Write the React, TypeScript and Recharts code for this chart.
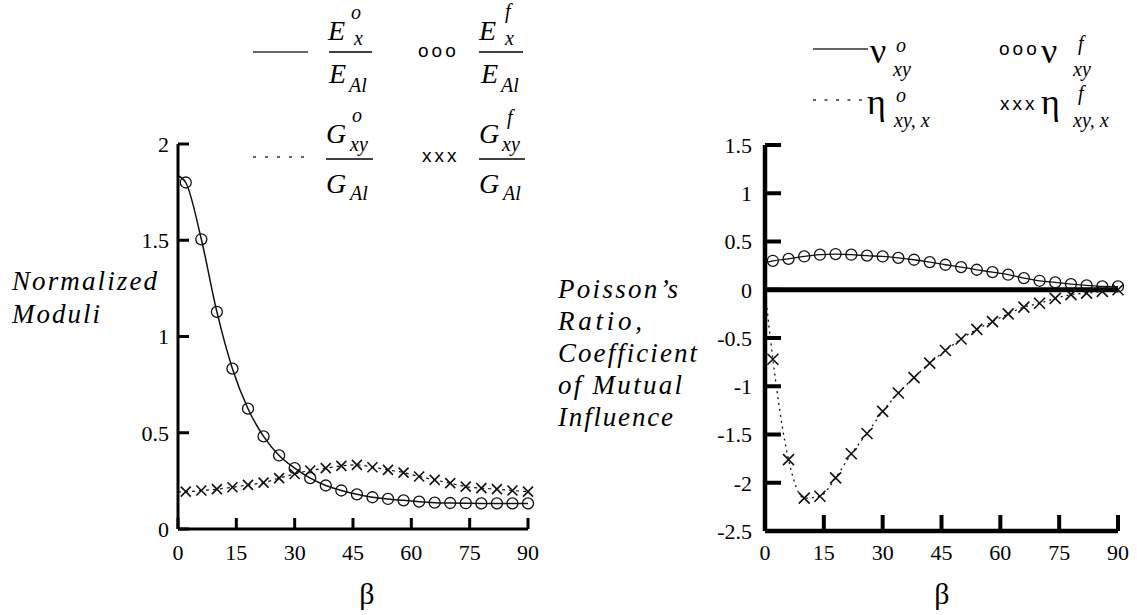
import React from 'react';
import { ComposedChart, Line, XAxis, YAxis, ReferenceLine } from 'recharts';

// beta (degrees) sample positions
const betaDeg = [0, 2, 6, 10, 14, 18, 22, 26, 30, 34, 38, 42, 46, 50, 54, 58, 62, 66, 70, 74, 78, 82, 86, 90];
const betaTicks = [0, 15, 30, 45, 60, 75, 90];
const moduliTicks = [0, 0.5, 1, 1.5, 2];
const poissonTicks = [-2.5, -2, -1.5, -1, -0.5, 0, 0.5, 1, 1.5];

// Left panel: normalized moduli
const exOrtho = [1.835, 1.8, 1.505, 1.128, 0.833, 0.625, 0.481, 0.382, 0.316, 0.264, 0.226, 0.2, 0.18, 0.165, 0.156, 0.149, 0.142, 0.137, 0.135, 0.134, 0.133, 0.133, 0.133, 0.133];
const exFinite = [null, 1.8, 1.505, 1.128, 0.833, 0.625, 0.481, 0.382, 0.316, 0.264, 0.226, 0.2, 0.18, 0.165, 0.156, 0.149, 0.142, 0.137, 0.135, 0.134, 0.133, 0.133, 0.133, 0.133];
const gxyOrtho = [0.193, 0.194, 0.2, 0.207, 0.217, 0.229, 0.241, 0.264, 0.286, 0.304, 0.316, 0.328, 0.333, 0.321, 0.307, 0.293, 0.273, 0.255, 0.238, 0.22, 0.212, 0.207, 0.2, 0.194];
const gxyFinite = [null, 0.194, 0.2, 0.207, 0.217, 0.229, 0.241, 0.264, 0.286, 0.304, 0.316, 0.328, 0.333, 0.321, 0.307, 0.293, 0.273, 0.255, 0.238, 0.22, 0.212, 0.207, 0.2, 0.194];

// Right panel: Poisson's ratio and coefficient of mutual influence
const nuOrtho = [0.28, 0.3, 0.32, 0.345, 0.363, 0.37, 0.363, 0.353, 0.345, 0.33, 0.311, 0.287, 0.259, 0.235, 0.207, 0.183, 0.156, 0.121, 0.093, 0.076, 0.059, 0.045, 0.034, 0.032];
const nuFinite = [null, 0.3, 0.32, 0.345, 0.363, 0.37, 0.363, 0.353, 0.345, 0.33, 0.311, 0.287, 0.259, 0.235, 0.207, 0.183, 0.156, 0.121, 0.093, 0.076, 0.059, 0.045, 0.034, 0.034];
const etaOrtho = [0, -0.72, -1.76, -2.16, -2.14, -1.95, -1.7, -1.49, -1.26, -1.07, -0.91, -0.76, -0.63, -0.51, -0.41, -0.33, -0.25, -0.18, -0.14, -0.09, -0.05, -0.035, -0.017, 0];
const etaFinite = [null, -0.72, -1.76, -2.16, -2.14, -1.95, -1.7, -1.49, -1.26, -1.07, -0.91, -0.76, -0.63, -0.51, -0.41, -0.33, -0.25, -0.18, -0.14, -0.09, -0.05, -0.035, -0.017, 0];

const moduliData = betaDeg.map((b, i) => ({ beta: b, exO: exOrtho[i], exF: exFinite[i], gO: gxyOrtho[i], gF: gxyFinite[i] }));
const poissonData = betaDeg.map((b, i) => ({ beta: b, nuO: nuOrtho[i], nuF: nuFinite[i], etaO: etaOrtho[i], etaF: etaFinite[i] }));

const SERIF = "'Liberation Serif', 'Times New Roman', 'Liberation Sans', Arial, sans-serif";
const SANS = "'Liberation Sans', Arial, 'DejaVu Sans', sans-serif";
const INK = '#111';

const circleDot = (r: number) => (p: any) => {
  const k = `c-${p.index}`;
  if (p.cx == null || p.cy == null || p.value == null || Number.isNaN(p.cy)) return <g key={k} />;
  return <circle key={k} cx={p.cx} cy={p.cy} r={r} fill="none" stroke={INK} strokeWidth={1.3} />;
};

const crossDot = (s: number) => (p: any) => {
  const k = `x-${p.index}`;
  if (p.cx == null || p.cy == null || p.value == null || Number.isNaN(p.cy)) return <g key={k} />;
  const { cx, cy } = p;
  return (
    <path
      key={k}
      d={`M${cx - s},${cy - s}L${cx + s},${cy + s}M${cx - s},${cy + s}L${cx + s},${cy - s}`}
      stroke={INK}
      strokeWidth={1.6}
      fill="none"
    />
  );
};

const tickFont = { fill: '#000', fontSize: 22, style: { fontFamily: SERIF } };

function Overlay() {
  const it = { style: { fontFamily: SERIF, fontStyle: 'italic' as const }, fill: '#000' };
  const up = { style: { fontFamily: SERIF }, fill: '#000' };
  const mk = { style: { fontFamily: SANS, letterSpacing: '3px' }, fill: '#000', fontSize: 19 };
  return (
    <svg width={1137} height={615} style={{ position: 'absolute', left: 0, top: 0, pointerEvents: 'none' }}>
      {/* Left legend row 1 */}
      <line x1={253} x2={308} y1={52} y2={52} stroke="#333" strokeWidth={1.5} />
      <text {...it} x={328} y={40} fontSize={28}>E</text>
      <text {...it} x={351} y={19} fontSize={20}>o</text>
      <text {...it} x={354} y={45} fontSize={20}>x</text>
      <line x1={329} x2={372} y1={52} y2={52} stroke="#000" strokeWidth={1.5} />
      <text {...it} x={329} y={83} fontSize={28}>E</text>
      <text {...it} x={349} y={92} fontSize={20}>Al</text>
      <text {...mk} x={418} y={57}>ooo</text>
      <text {...it} x={479} y={40} fontSize={28}>E</text>
      <text {...it} x={505} y={18} fontSize={20}>f</text>
      <text {...it} x={505} y={45} fontSize={20}>x</text>
      <line x1={479} x2={523} y1={52} y2={52} stroke="#000" strokeWidth={1.5} />
      <text {...it} x={481} y={83} fontSize={28}>E</text>
      <text {...it} x={501} y={92} fontSize={20}>Al</text>
      {/* Left legend row 2 */}
      <line x1={253} x2={308} y1={157} y2={157} stroke="#333" strokeWidth={1.5} strokeDasharray="3 9" />
      <text {...it} x={326} y={143} fontSize={28}>G</text>
      <text {...it} x={352} y={122} fontSize={20}>o</text>
      <text {...it} x={350} y={151} fontSize={20}>xy</text>
      <line x1={326} x2={373} y1={159} y2={159} stroke="#000" strokeWidth={1.5} />
      <text {...it} x={326} y={193} fontSize={28}>G</text>
      <text {...it} x={350} y={200} fontSize={20}>Al</text>
      <text {...mk} x={422} y={162}>xxx</text>
      <text {...it} x={479} y={143} fontSize={28}>G</text>
      <text {...it} x={507} y={124} fontSize={20}>f</text>
      <text {...it} x={502} y={151} fontSize={20}>xy</text>
      <line x1={479} x2={525} y1={159} y2={159} stroke="#000" strokeWidth={1.5} />
      <text {...it} x={479} y={193} fontSize={28}>G</text>
      <text {...it} x={503} y={200} fontSize={20}>Al</text>

      {/* Right legend row 1 */}
      <line x1={813} x2={868} y1={49} y2={49} stroke="#333" strokeWidth={1.5} />
      <text {...up} x={870} y={63} fontSize={36}>ν</text>
      <text {...it} x={896} y={52} fontSize={20}>o</text>
      <text {...it} x={893} y={76} fontSize={20}>xy</text>
      <text {...mk} x={999} y={55}>ooo</text>
      <text {...up} x={1041} y={63} fontSize={36}>ν</text>
      <text {...it} x={1078} y={50} fontSize={20}>f</text>
      <text {...it} x={1073} y={76} fontSize={20}>xy</text>
      {/* Right legend row 2 */}
      <line x1={813} x2={867} y1={100} y2={100} stroke="#333" strokeWidth={1.5} strokeDasharray="3 8.5" />
      <text {...up} x={867} y={114} fontSize={36}>η</text>
      <text {...it} x={896} y={102} fontSize={20}>o</text>
      <text {...it} x={894} y={127} fontSize={20}>xy, x</text>
      <text {...mk} x={1000} y={110}>xxx</text>
      <text {...up} x={1041} y={114} fontSize={36}>η</text>
      <text {...it} x={1078} y={100} fontSize={20}>f</text>
      <text {...it} x={1073} y={127} fontSize={20}>xy, x</text>

      {/* Axis titles */}
      <text {...up} x={367} y={604} fontSize={30} textAnchor="middle">β</text>
      <text {...up} x={942} y={604} fontSize={30} textAnchor="middle">β</text>
      <text {...it} x={12} y={290} fontSize={27} textLength={145} lengthAdjust="spacing">Normalized</text>
      <text {...it} x={12} y={323} fontSize={27} textLength={88} lengthAdjust="spacing">Moduli</text>
      <text {...it} x={558} y={298} fontSize={27} textLength={120} lengthAdjust="spacing">Poisson’s</text>
      <text {...it} x={558} y={330} fontSize={27} textLength={84} lengthAdjust="spacing">Ratio,</text>
      <text {...it} x={558} y={362} fontSize={27} textLength={139} lengthAdjust="spacing">Coefficient</text>
      <text {...it} x={558} y={394} fontSize={27} textLength={124} lengthAdjust="spacing">of Mutual</text>
      <text {...it} x={558} y={426} fontSize={27} textLength={115} lengthAdjust="spacing">Influence</text>
    </svg>
  );
}

export default function App() {
  return (
    <div style={{ position: 'absolute', left: 0, top: 0, width: 1137, height: 615, background: '#fff', overflow: 'hidden', fontFamily: SERIF }}>
      <div style={{ position: 'absolute', left: 0, top: 0 }}>
        <ComposedChart width={560} height={615} data={moduliData} margin={{ top: 144, right: 32, bottom: 46, left: 118 }}>
          <XAxis
            dataKey="beta"
            type="number"
            domain={[0, 90]}
            ticks={betaTicks}
            interval={0}
            height={40}
            axisLine={{ stroke: '#000', strokeWidth: 3 }}
            tickLine={{ stroke: '#000', strokeWidth: 3 }}
            tickSize={-11}
            tickMargin={26}
            tick={tickFont}
          />
          <YAxis
            type="number"
            domain={[0, 2]}
            ticks={moduliTicks}
            interval={0}
            width={60}
            axisLine={{ stroke: '#000', strokeWidth: 3 }}
            tickLine={{ stroke: '#000', strokeWidth: 3 }}
            tickSize={-11}
            tickMargin={20}
            tick={tickFont}
          />
          <Line dataKey="exO" type="monotone" stroke={INK} strokeWidth={1.5} dot={false} activeDot={false} isAnimationActive={false} connectNulls />
          <Line dataKey="gO" type="monotone" stroke={INK} strokeWidth={1.2} strokeDasharray="3 4" dot={false} activeDot={false} isAnimationActive={false} connectNulls />
          <Line dataKey="exF" stroke="none" strokeWidth={0} dot={circleDot(5.5)} activeDot={false} isAnimationActive={false} />
          <Line dataKey="gF" stroke="none" strokeWidth={0} dot={crossDot(5)} activeDot={false} isAnimationActive={false} />
        </ComposedChart>
      </div>
      <div style={{ position: 'absolute', left: 580, top: 0 }}>
        <ComposedChart width={557} height={615} data={poissonData} margin={{ top: 145, right: 19, bottom: 44, left: 125 }}>
          <XAxis
            dataKey="beta"
            type="number"
            domain={[0, 90]}
            ticks={betaTicks}
            interval={0}
            height={40}
            axisLine={{ stroke: '#000', strokeWidth: 4.5 }}
            tickLine={{ stroke: '#000', strokeWidth: 4 }}
            tickSize={-16}
            tickMargin={29}
            tick={tickFont}
          />
          <YAxis
            type="number"
            domain={[-2.5, 1.5]}
            ticks={poissonTicks}
            interval={0}
            width={60}
            axisLine={{ stroke: '#000', strokeWidth: 4.5 }}
            tickLine={{ stroke: '#000', strokeWidth: 4 }}
            tickSize={-16}
            tickMargin={29}
            tick={tickFont}
          />
          <ReferenceLine y={0} stroke="#000" strokeWidth={5} />
          <Line dataKey="nuO" type="monotone" stroke={INK} strokeWidth={1.3} dot={false} activeDot={false} isAnimationActive={false} connectNulls />
          <Line dataKey="etaO" type="monotone" stroke={INK} strokeWidth={1.3} strokeDasharray="2 4" dot={false} activeDot={false} isAnimationActive={false} connectNulls />
          <Line dataKey="nuF" stroke="none" strokeWidth={0} dot={circleDot(5.5)} activeDot={false} isAnimationActive={false} />
          <Line dataKey="etaF" stroke="none" strokeWidth={0} dot={crossDot(5.5)} activeDot={false} isAnimationActive={false} />
        </ComposedChart>
      </div>
      <Overlay />
    </div>
  );
}
